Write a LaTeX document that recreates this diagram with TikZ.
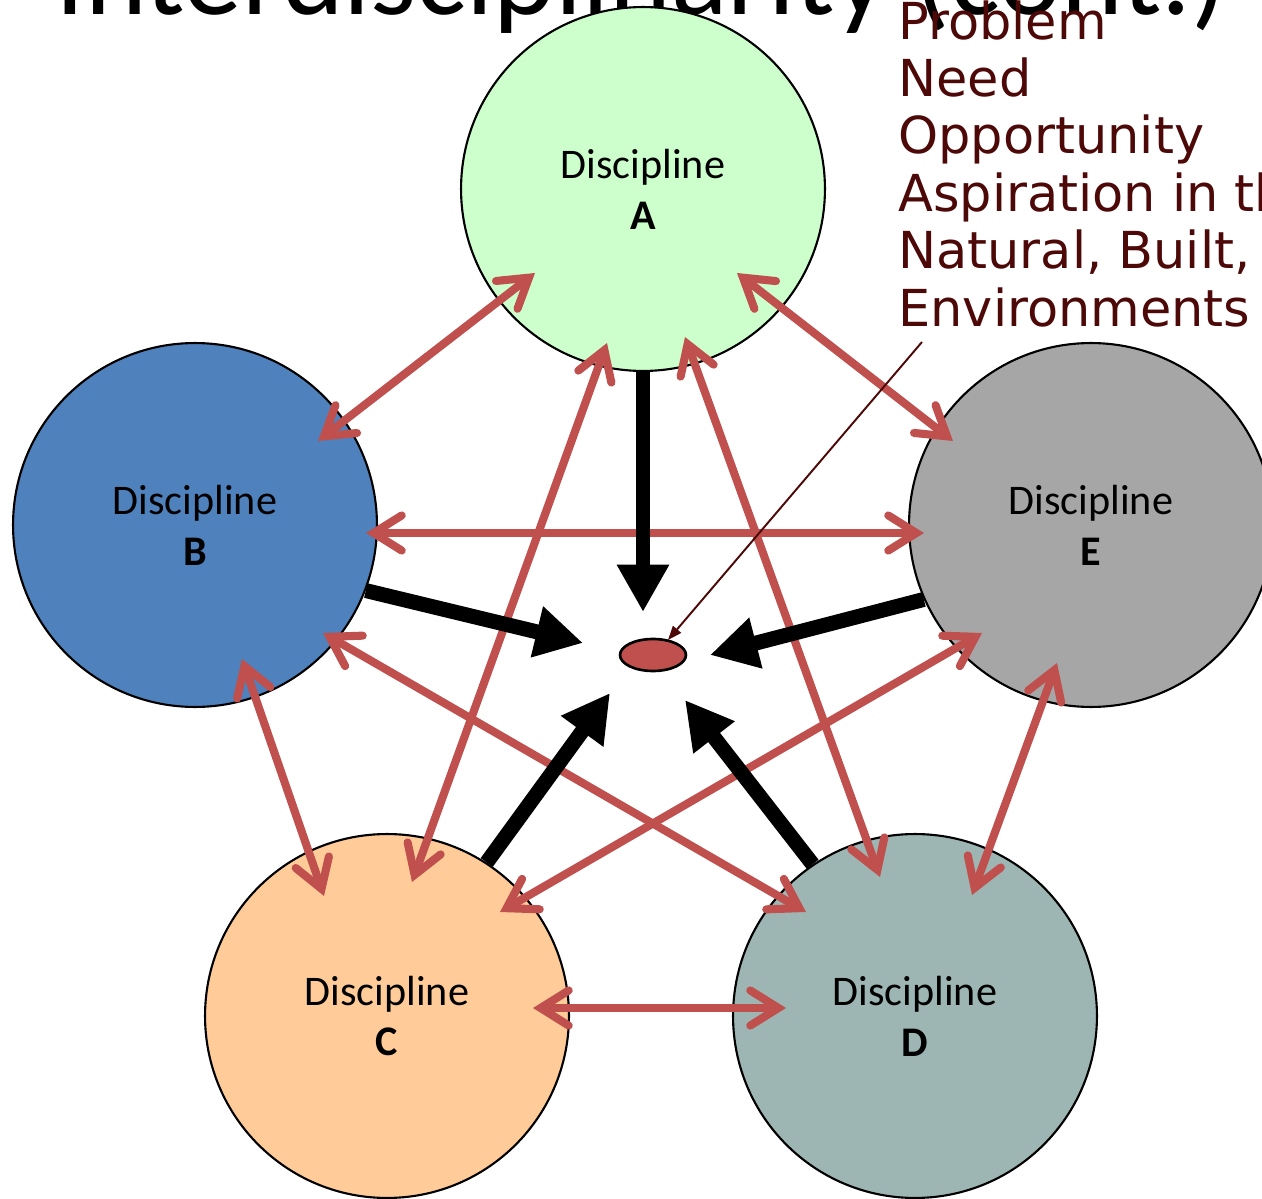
\documentclass[tikz,border=0pt]{standalone}
\usepackage{fontspec}
\setmainfont{Carlito}
\newfontfamily\notefont{DejaVu Sans}
\usetikzlibrary{arrows.meta, calc, shapes.geometric}

\definecolor{discA}{HTML}{CCFFCC}
\definecolor{discB}{HTML}{4F81BD}
\definecolor{discC}{HTML}{FFCC99}
\definecolor{discD}{HTML}{9EB6B3}
\definecolor{discE}{HTML}{A6A6A6}
\definecolor{linkred}{HTML}{C0504D}
\definecolor{notered}{HTML}{4D0808}

\begin{document}
\begin{tikzpicture}[x=0.02cm, y=-0.02cm,
	disc/.style={circle, draw=black, line width=1.2pt, minimum size=7.28cm, inner sep=0pt, align=center, font=\fontsize{24}{29}\selectfont},
	link/.style={draw=linkred, line width=4.6pt, {Straight Barb[length=16pt,width=20pt,line cap=round,line join=miter]}-{Straight Barb[length=16pt,width=20pt,line cap=round,line join=miter]}},
	push/.style={draw=black, line width=8.5pt, -{Triangle[length=27pt,width=28pt]}},
	pointer/.style={draw=notered, line width=1.1pt, -{Triangle[length=8pt,width=6pt]}}]
		\useasboundingbox (0,0) rectangle (1262,1199);
		\clip (0,0) rectangle (1262,1199);
		
		\node(title) at (55,15)[anchor=base west,inner sep=0pt,font=\fontsize{67}{70}\selectfont]{Interdisciplinarity (cont.)};
		\node(note) at (898,0)[anchor=north west,inner sep=0pt,align=left,text=notered,font=\notefont\fontsize{29}{32.7}\selectfont]{Problem\\Need\\Opportunity\\Aspiration in the\\Natural, Built,\\Environments};
		
		\node(A) at (643,189)[disc,fill=discA]{Discipline\\\textbf{A}};
		\node(B) at (195,525)[disc,fill=discB]{Discipline\\\textbf{B}};
		\node(C) at (387,1016)[disc,fill=discC]{Discipline\\\textbf{C}};
		\node(D) at (915,1016)[disc,fill=discD]{Discipline\\\textbf{D}};
		\node(E) at (1091,525)[disc,fill=discE]{Discipline\\\textbf{E}};
		\node(P) at (653,655)[ellipse,draw=black,line width=1.5pt,fill=linkred,minimum width=1.32cm,minimum height=0.64cm,inner sep=0pt]{};
		\coordinate(ptr) at (922,342);
		
		\draw[link] ($(A)+(-108,84)$) -- ($(B)+(123,-84)$);
		\draw[link] ($(A)+(94,84)$) -- ($(E)+(-138,-84)$);
		\draw[link] ($(B)+(171,8)$) -- ($(E)+(-167,8)$);
		\draw[link] ($(A)+(-36,154)$) -- ($(C)+(25,-134)$);
		\draw[link] ($(A)+(42,148)$) -- ($(D)+(-35,-139)$);
		\draw[link] ($(B)+(47,134)$) -- ($(C)+(-63,-120)$);
		\draw[link] ($(B)+(128,108)$) -- ($(D)+(-109,-104)$);
		\draw[link] ($(E)+(-109,108)$) -- ($(C)+(113,-104)$);
		\draw[link] ($(E)+(-34,138)$) -- ($(D)+(57,-121)$);
		\draw[link] ($(C)+(146,-8)$) -- ($(D)+(-129,-8)$);
		
		\draw[push] (A.south) -- ($(P)+(-10,-43)$);
		\draw[push] (B.-21) -- ($(P)+(-70,-12)$);
		\draw[push] (E.204) -- ($(P)+(57,0)$);
		\draw[push] (C.57.5) -- ($(P)+(-43,38)$);
		\draw[push] (D.124) -- ($(P)+(32,45)$);
		
		\draw[pointer] (ptr) -- ($(P)+(15,-15)$);
	\end{tikzpicture}
\end{document}
